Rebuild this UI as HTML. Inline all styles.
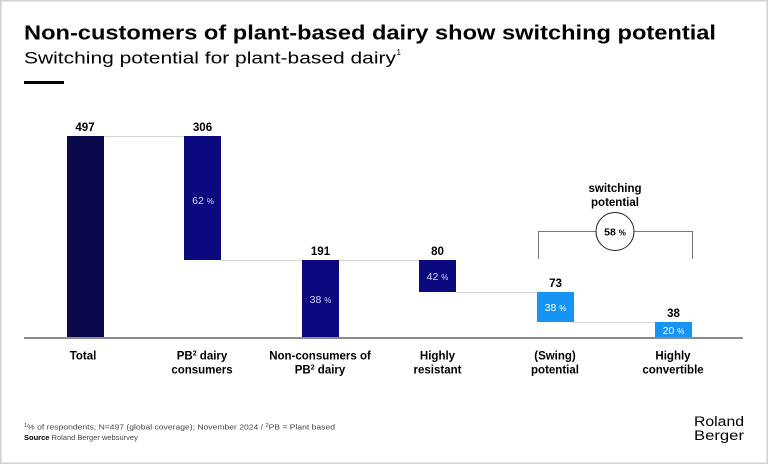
<!DOCTYPE html>
<html>
<head>
<meta charset="utf-8">
<style>
  html,body{margin:0;padding:0;background:#fff;}
  svg{display:block;}
  text{font-family:"Liberation Sans", sans-serif;}
</style>
</head>
<body>
<svg width="768" height="464" viewBox="0 0 768 464" xmlns="http://www.w3.org/2000/svg">
  <rect x="0.75" y="0.75" width="766.5" height="462.5" fill="#fff" stroke="#d2d2d2" stroke-width="1.5"/>

  <!-- Title -->
  <text x="24" y="39.5" font-size="20.5" font-weight="bold" fill="#000" textLength="692" lengthAdjust="spacingAndGlyphs">Non-customers of plant-based dairy show switching potential</text>
  <text x="24" y="63.5" font-size="16.5" fill="#000" textLength="372" lengthAdjust="spacingAndGlyphs">Switching potential for plant-based dairy</text>
  <text x="396.5" y="55" font-size="8" fill="#000">1</text>
  <rect x="24" y="81" width="40" height="3" fill="#000"/>

  <!-- connectors -->
  <g stroke="#d6d6d6" stroke-width="1">
    <line x1="104" y1="136.5" x2="184" y2="136.5"/>
    <line x1="221" y1="260.5" x2="419" y2="260.5"/>
    <line x1="456" y1="292.5" x2="537" y2="292.5"/>
    <line x1="573" y1="322.5" x2="655" y2="322.5"/>
  </g>

  <!-- bars -->
  <rect x="67" y="136" width="37" height="202" fill="#08084a"/>
  <rect x="184" y="136" width="37" height="124" fill="#0a0a7e"/>
  <rect x="302" y="260" width="37" height="78" fill="#0a0a7e"/>
  <rect x="419" y="260" width="37" height="32" fill="#0a0a7e"/>
  <rect x="537" y="292" width="37" height="30" fill="#1594f4"/>
  <rect x="655" y="322" width="37" height="16" fill="#1594f4"/>

  <!-- axis -->
  <line x1="24" y1="338" x2="743" y2="338" stroke="#8c8c8c" stroke-width="2"/>

  <!-- value labels -->
  <g font-size="11.5" font-weight="bold" fill="#000" text-anchor="middle">
    <text x="85" y="131">497</text>
    <text x="202.5" y="131">306</text>
    <text x="320.5" y="255">191</text>
    <text x="437.5" y="255">80</text>
    <text x="555.5" y="287">73</text>
    <text x="673.5" y="317">38</text>
  </g>

  <!-- percentage labels -->
  <g font-size="10.5" text-anchor="middle">
    <text x="203" y="204" fill="#d6d6ff">62 <tspan font-size="8">%</tspan></text>
    <text x="320.5" y="303" fill="#d6d6ff">38 <tspan font-size="8">%</tspan></text>
    <text x="437.5" y="280" fill="#d6d6ff">42 <tspan font-size="8">%</tspan></text>
    <text x="555.5" y="311" fill="#ffffff">38 <tspan font-size="8">%</tspan></text>
    <text x="673.5" y="334" fill="#ffffff">20 <tspan font-size="8">%</tspan></text>
  </g>

  <!-- bracket -->
  <g stroke="#777" stroke-width="1" fill="none">
    <polyline points="538.5,259 538.5,231.5 596,231.5"/>
    <polyline points="634,231.5 692.5,231.5 692.5,259"/>
    <circle cx="615" cy="231.5" r="19" stroke="#222"/>
  </g>
  <text x="615" y="235.5" font-size="10.5" font-weight="bold" fill="#000" text-anchor="middle">58 <tspan font-size="8">%</tspan></text>
  <g font-size="11.5" font-weight="bold" fill="#000" text-anchor="middle">
    <text x="615" y="192">switching</text>
    <text x="615" y="206">potential</text>
  </g>

  <!-- category labels -->
  <g font-size="11.5" font-weight="bold" fill="#000" text-anchor="middle">
    <text x="83" y="359.5">Total</text>
    <text x="202" y="359.5">PB<tspan font-size="7" dy="-4">2</tspan><tspan dy="4"> dairy</tspan></text>
    <text x="202" y="373.5">consumers</text>
    <text x="320" y="359.5">Non-consumers of</text>
    <text x="320" y="373.5">PB<tspan font-size="7" dy="-4">2</tspan><tspan dy="4"> dairy</tspan></text>
    <text x="437.5" y="359.5">Highly</text>
    <text x="437.5" y="373.5">resistant</text>
    <text x="555" y="359.5">(Swing)</text>
    <text x="555" y="373.5">potential</text>
    <text x="673" y="359.5">Highly</text>
    <text x="673" y="373.5">convertible</text>
  </g>

  <!-- footer -->
  <text x="24" y="429.5" font-size="7.5" fill="#444" textLength="311" lengthAdjust="spacingAndGlyphs"><tspan font-size="5" dy="-2.5">1</tspan><tspan dy="2.5">% of respondents; N=497 (global coverage); November 2024 / </tspan><tspan font-size="5" dy="-2.5">2</tspan><tspan dy="2.5">PB = Plant based</tspan></text>
  <text x="24" y="440" font-size="7.5" fill="#444"><tspan font-weight="bold" fill="#000">Source</tspan> Roland Berger websurvey</text>

  <!-- logo -->
  <g font-size="13.5" fill="#000">
    <text x="694" y="426" textLength="50" lengthAdjust="spacingAndGlyphs">Roland</text>
    <text x="694" y="440" textLength="50" lengthAdjust="spacingAndGlyphs">Berger</text>
  </g>
</svg>
</body>
</html>
